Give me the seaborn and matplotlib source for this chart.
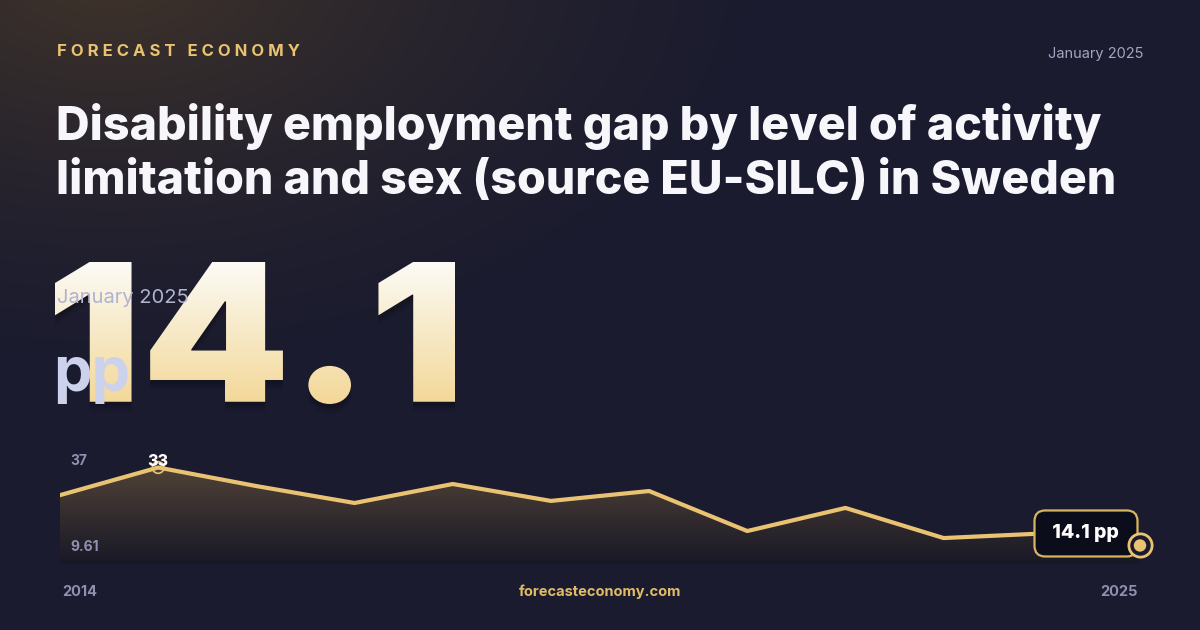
import numpy as np
import pandas as pd
import matplotlib
matplotlib.use("Agg")
import matplotlib.pyplot as plt
import seaborn as sns
from matplotlib.textpath import TextPath
from matplotlib.font_manager import FontProperties
from matplotlib.patches import PathPatch
from matplotlib.transforms import Affine2D

# data
years = list(range(2014, 2026))
gap_pp = [26.3, 33.0, 28.5, 24.4, 29.0, 24.9, 27.3, 17.6, 23.2, 15.9, 17.0, 14.1]
y_low, y_high = 9.61, 37
headline = "14.1"
unit = "pp"
period = "January 2025"
title_lines = ["Disability employment gap by level of activity",
               "limitation and sex (source EU-SILC) in Sweden"]

df = pd.DataFrame({"year": years, "value": gap_pp})

GOLD = "#e9c372"
GREY = "#8f91ae"

sns.set_theme(style="white")
plt.rcParams["font.family"] = ["Inter", "DejaVu Sans"]

W, H = 1200, 630
fig = plt.figure(figsize=(12, 6.3), dpi=100)

# background with warm glow top-left
bg = fig.add_axes([0, 0, 1, 1])
bg.set_xlim(0, W)
bg.set_ylim(H, 0)
bg.axis("off")
yy, xx = np.mgrid[0:H, 0:W]
base = np.array([26, 27, 47]) / 255
warm = np.array([64, 52, 42]) / 255
d = np.hypot((xx - 110) / 700, (yy + 30) / 420)
w = np.clip(1 - d, 0, 1) ** 1.5
bg.imshow(base * (1 - w[..., None]) + warm * w[..., None], extent=[0, W, H, 0], zorder=0)

# header
bg.text(57, 52, "   ".join(" ".join(word) for word in "FORECAST ECONOMY".split()),
        color=GOLD, fontsize=12, fontweight="bold", va="center", ha="left")
bg.text(1143, 54, period, color="#a3a5c2", fontsize=10.5, va="center", ha="right")
for k, line in enumerate(title_lines):
    bg.text(56, 140 + 54 * k, line, color="#f6f6fb", fontsize=33.5, fontweight="heavy",
            va="baseline", ha="left")

# big headline number with gradient fill
fp = FontProperties(family="Inter", weight="black")
tp = TextPath((0, 0), headline, size=100, prop=fp)
ext = tp.get_extents()
sx = 400 / ext.width
sy = 142 / ext.height
tr = Affine2D().translate(-ext.x0, -ext.y0).scale(sx, -sy).translate(55, 404)
big_path = tr.transform_path(tp)
for off, a in [(4, 0.10), (7, 0.08), (10, 0.06)]:
    bg.add_patch(PathPatch(Affine2D().translate(0, off).transform_path(big_path),
                           facecolor="black", edgecolor="none", alpha=a, zorder=1))
patch = PathPatch(big_path, facecolor="none", edgecolor="none", zorder=2)
bg.add_patch(patch)
top_c = np.array([252, 251, 247]) / 255
bot_c = np.array([243, 215, 150]) / 255
t = np.linspace(0, 1, 200)[:, None, None]
grad = np.repeat(top_c * (1 - t) + bot_c * t, 2, axis=1)
im = bg.imshow(grad, extent=[50, 460, 406, 260], zorder=2, aspect="auto")
im.set_clip_path(patch)

bg.text(57, 298, period, color="#b1b3cf", fontsize=14.5, va="center", ha="left", zorder=3)
bg.text(53, 391, unit, color="#cdd2ec", fontsize=44, fontweight="bold",
        va="baseline", ha="left", zorder=3)

# sparkline chart
ax = fig.add_axes([60 / W, (H - 564) / H, 1080 / W, 113 / H])
ax.patch.set_alpha(0)
ax.set_xlim(years[0], years[-1])
ax.set_ylim(y_low, y_high)
ax.axis("off")

poly = ax.fill_between(df["year"], df["value"], y_low, color="none", lw=0)
g = np.linspace(0, 1, 200)[:, None, None]
c_top = np.array([82, 67, 56, 1.0])
c_bot = np.array([24, 24, 38, 1.0])
fill = (c_top * (1 - g) + c_bot * g)
fill[..., :3] /= 255
fill = np.repeat(fill, 2, axis=1)
fim = ax.imshow(fill, extent=[years[0], years[-1], y_low, 34], aspect="auto", zorder=1)
fim.set_clip_path(poly.get_paths()[0], transform=ax.transData)

sns.lineplot(data=df, x="year", y="value", ax=ax, color=GOLD, lw=3, zorder=4)
ax.lines[-1].set_solid_joinstyle("round")
ax.lines[-1].set_solid_capstyle("round")

# axis range labels (pixel placement, drawn above the fill)
ax.text(70, 461, f"{y_high:g}", color=GREY, fontsize=10, fontweight="bold",
        va="center", transform=bg.transData, zorder=5)
ax.text(70, 547, f"{y_low:g}", color=GREY, fontsize=10, fontweight="bold",
        va="center", transform=bg.transData, zorder=5)

# peak marker and label
i_max = int(np.argmax(gap_pp))
ax.scatter([years[i_max]], [gap_pp[i_max]], s=70, facecolor="none",
           edgecolor=GOLD, lw=1.2, zorder=5)
ax.annotate(f"{gap_pp[i_max]:.0f}", (years[i_max], gap_pp[i_max]), xytext=(0, 6),
            textcoords="offset pixels", ha="center", va="center", color="white",
            fontsize=11.5, fontweight="heavy", zorder=6, annotation_clip=False)

# last value label and marker
ax.annotate(f" {gap_pp[-1]} {unit} ", (years[-1], gap_pp[-1]), xytext=(-54, 12),
            textcoords="offset pixels", ha="center", va="center", color="white",
            fontsize=14, fontweight="heavy", zorder=6, annotation_clip=False,
            bbox=dict(boxstyle="round,pad=0.72,rounding_size=0.55", fc="#0c0d1b",
                      ec="#d9b45f", lw=1.6))
ax.scatter([years[-1]], [gap_pp[-1]], s=280, facecolor="#1a1b2e",
           edgecolor=GOLD, lw=2, zorder=7, clip_on=False)
ax.scatter([years[-1]], [gap_pp[-1]], s=80, facecolor=GOLD,
           edgecolor="none", zorder=8, clip_on=False)

# footer
bg.text(62, 592, str(years[0]), color=GREY, fontsize=10.5, fontweight="bold", va="center", ha="left")
bg.text(1138, 592, str(years[-1]), color=GREY, fontsize=10.5, fontweight="bold", va="center", ha="right")
bg.text(600, 592, "forecasteconomy.com", color="#e2bb68", fontsize=10.5,
        fontweight="bold", va="center", ha="center")

fig.savefig("out.png", dpi=100)
